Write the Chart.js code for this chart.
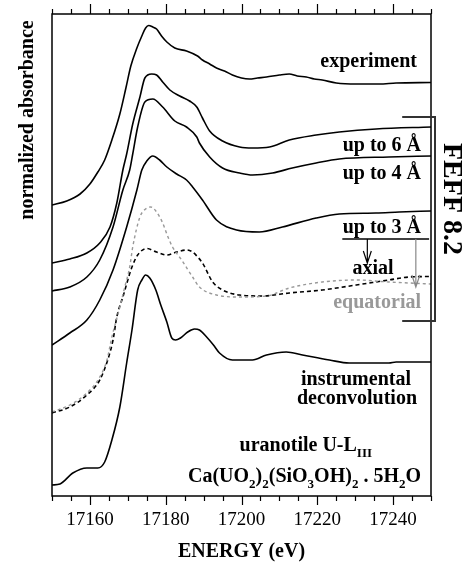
<!DOCTYPE html>
<html lang="en">

<head>
    <meta charset="UTF-8">
    <script src="https://cdn.jsdelivr.net/npm/chart.js"></script>
    <title>Uranotile U-LIII XANES</title>
    <style>
        body { margin: 0; background: #fff; }
        canvas { display: block; }
    </style>
</head>

<body>
    <canvas id="chart" width="462" height="564"></canvas>

    <script>
        // energy (eV) / offset absorbance pairs for each spectrum
        const expE = [17150, 17153.9, 17157.4, 17160, 17162.1, 17163.9, 17165.8, 17167.9, 17169.5, 17170.8, 17172.4, 17173.7, 17174.7, 17175.5, 17176.6, 17177.6, 17178.9, 17180.3, 17182.4, 17185.5, 17188.4, 17189.7, 17191.6, 17193.4, 17195.5, 17197.6, 17200, 17202.1, 17204.2, 17206.6, 17210, 17212.6, 17214.7, 17217.1, 17219.2, 17221.3, 17225, 17230.3, 17236.3, 17240.8, 17250];
        const expA = [2.91, 2.95, 3.02, 3.12, 3.24, 3.36, 3.56, 3.82, 4.08, 4.30, 4.48, 4.60, 4.68, 4.705, 4.69, 4.67, 4.60, 4.54, 4.48, 4.45, 4.40, 4.36, 4.32, 4.28, 4.25, 4.21, 4.18, 4.17, 4.18, 4.19, 4.21, 4.22, 4.20, 4.19, 4.17, 4.16, 4.13, 4.12, 4.12, 4.13, 4.135];

        const r6E = [17150, 17154.7, 17159.2, 17162.6, 17165.3, 17167.1, 17168.7, 17169.7, 17171.3, 17173.2, 17174.5, 17176.3, 17177.6, 17179.2, 17181.1, 17183.7, 17186.3, 17188.2, 17189.7, 17191.6, 17195, 17199.5, 17202.9, 17207.4, 17212.6, 17219.7, 17225.8, 17235.5, 17250];
        const r6A = [2.33, 2.37, 2.43, 2.53, 2.69, 2.93, 3.26, 3.42, 3.72, 3.99, 4.18, 4.22, 4.21, 4.14, 4.06, 4.00, 3.95, 3.89, 3.78, 3.65, 3.55, 3.49, 3.48, 3.49, 3.56, 3.61, 3.64, 3.67, 3.69];

        const r4E = [17150, 17154.7, 17159.2, 17162.6, 17166.1, 17168.7, 17170.5, 17171.3, 17172.6, 17174.5, 17176.6, 17179.2, 17182.4, 17185.5, 17188.2, 17188.9, 17191.6, 17195, 17199.5, 17202.9, 17208.2, 17213.4, 17219.7, 17225.8, 17238.9, 17250];
        const r4A = [2.05, 2.09, 2.19, 2.36, 2.69, 3.06, 3.26, 3.42, 3.69, 3.94, 3.97, 3.89, 3.75, 3.69, 3.59, 3.53, 3.39, 3.28, 3.23, 3.21, 3.23, 3.28, 3.33, 3.37, 3.39, 3.40];

        const r3E = [17150, 17154.7, 17159.2, 17162.6, 17166.1, 17169.7, 17172.4, 17173.7, 17175, 17176.6, 17178.4, 17180.3, 17182.9, 17185.5, 17187.1, 17189.7, 17193.4, 17198.7, 17204.7, 17210.8, 17219.7, 17225.8, 17235.5, 17241.6, 17250];
        const r3A = [1.51, 1.63, 1.76, 1.96, 2.26, 2.69, 3.06, 3.26, 3.35, 3.40, 3.36, 3.29, 3.22, 3.16, 3.09, 2.96, 2.76, 2.66, 2.64, 2.69, 2.78, 2.82, 2.83, 2.84, 2.85];

        const axialE = [17150, 17154.7, 17159.2, 17162.6, 17164.7, 17166.1, 17167.1, 17168.7, 17171.1, 17172.6, 17175, 17177.6, 17180.3, 17182.9, 17185.5, 17187.1, 17188.2, 17189.7, 17192.4, 17195, 17199.5, 17205.5, 17212.6, 17221.3, 17230.3, 17238.9, 17244.2, 17250];
        const axialA = [0.83, 0.89, 1.01, 1.16, 1.36, 1.56, 1.79, 1.99, 2.29, 2.41, 2.475, 2.44, 2.41, 2.44, 2.46, 2.44, 2.40, 2.33, 2.14, 2.06, 2.01, 2.00, 2.03, 2.06, 2.11, 2.16, 2.19, 2.195];

        const equatE = [17150, 17154.7, 17159.2, 17162.6, 17164.5, 17165.8, 17167.9, 17169.2, 17170.5, 17171.3, 17173.2, 17174.7, 17176.1, 17177.6, 17179.2, 17180.5, 17181.8, 17184.2, 17187.1, 17188.9, 17193.4, 17199.5, 17206.6, 17212.6, 17221.3, 17230.3, 17238.9, 17250];
        const equatA = [0.84, 0.91, 1.03, 1.19, 1.36, 1.59, 1.89, 2.09, 2.29, 2.49, 2.79, 2.87, 2.89, 2.84, 2.73, 2.60, 2.49, 2.36, 2.19, 2.09, 2.01, 1.99, 2.00, 2.08, 2.14, 2.16, 2.14, 2.12];

        const deconvE = [17150, 17152.1, 17155.5, 17159.2, 17162.1, 17163.9, 17165.8, 17167.9, 17169.7, 17171.1, 17172.6, 17173.7, 17174.7, 17175.8, 17177.4, 17178.7, 17180.3, 17181.6, 17182.6, 17183.9, 17185.8, 17187.6, 17188.9, 17190.8, 17192.6, 17194.2, 17197.6, 17202.9, 17206.6, 17211.8, 17216.1, 17223.2, 17228.4, 17238.9, 17240.8, 17250];
        const deconvA = [0.11, 0.12, 0.23, 0.28, 0.28, 0.34, 0.56, 0.89, 1.33, 1.66, 2.06, 2.16, 2.21, 2.18, 2.06, 1.91, 1.74, 1.58, 1.56, 1.58, 1.64, 1.67, 1.66, 1.59, 1.51, 1.43, 1.36, 1.36, 1.41, 1.44, 1.41, 1.36, 1.33, 1.33, 1.34, 1.34];

        const labelTicks = [17160, 17180, 17200, 17220, 17240];
        const xMin = 17150, xMax = 17250;

        const serif = "'Liberation Serif', 'Times New Roman', serif";

        function pts(xs, ys) {
            return xs.map(function (x, i) { return { x: x, y: ys[i] }; });
        }

        function series(xs, ys, color, dash, width) {
            return {
                data: pts(xs, ys),
                borderColor: color,
                borderWidth: width || 1.6,
                borderDash: dash || [],
                pointRadius: 0,
                fill: false,
                tension: 0,
                cubicInterpolationMode: 'monotone'
            };
        }

        // text with subscript runs, right aligned at x
        function richText(ctx, runs, x, y, size) {
            let w = 0;
            runs.forEach(function (r) {
                ctx.font = 'bold ' + (r.sub ? size * 0.65 : size) + 'px ' + serif;
                r.w = ctx.measureText(r.t).width;
                w += r.w;
            });
            let cx = x - w;
            ctx.textAlign = 'left';
            runs.forEach(function (r) {
                ctx.font = 'bold ' + (r.sub ? size * 0.65 : size) + 'px ' + serif;
                ctx.fillText(r.t, cx, r.sub ? y + size * 0.28 : y);
                cx += r.w;
            });
        }

        function arrow(ctx, x, y0, y1, color) {
            ctx.strokeStyle = color;
            ctx.lineWidth = 1.2;
            ctx.beginPath();
            ctx.moveTo(x, y0);
            ctx.lineTo(x, y1);
            ctx.moveTo(x - 4, y1 - 12);
            ctx.lineTo(x, y1);
            ctx.lineTo(x + 4, y1 - 12);
            ctx.stroke();
        }

        const decorations = {
            id: 'decorations',
            afterDraw(chart) {
                const ctx = chart.ctx;
                const a = chart.chartArea;
                const xs = chart.scales.x;
                const ys = chart.scales.y;
                ctx.save();

                // frame (left, top, right, bottom)
                ctx.strokeStyle = '#000';
                ctx.lineWidth = 1.5;
                ctx.strokeRect(a.left, a.top, a.right - a.left, a.bottom - a.top);

                // ticks every 5 eV, longer at labelled values, outside top and bottom
                ctx.lineWidth = 1.2;
                ctx.beginPath();
                for (let e = xMin; e <= xMax; e += 5) {
                    const px = Math.round(xs.getPixelForValue(e)) + 0.5;
                    const major = labelTicks.indexOf(e) >= 0;
                    ctx.moveTo(px, a.top);
                    ctx.lineTo(px, a.top - (major ? 10 : 5));
                    ctx.moveTo(px, a.bottom);
                    ctx.lineTo(px, a.bottom + (major ? 9 : 5));
                }
                ctx.stroke();

                // labels for the spectra
                ctx.fillStyle = '#000';
                ctx.textBaseline = 'alphabetic';
                ctx.font = 'bold 20px ' + serif;
                ctx.textAlign = 'right';
                ctx.fillText('experiment', 417, 67);
                ctx.fillText('up to 6 Å', 421, 151);
                ctx.fillText('up to 4 Å', 421, 179);
                ctx.fillText('up to 3 Å', 421, 233);
                ctx.textAlign = 'center';
                ctx.fillText('axial', 373, 274);
                ctx.fillText('instrumental', 356, 385);
                ctx.fillText('deconvolution', 357, 404);
                ctx.fillStyle = '#999';
                ctx.textAlign = 'right';
                ctx.fillText('equatorial', 421, 308);

                ctx.fillStyle = '#000';
                richText(ctx, [{ t: 'uranotile U-L' }, { t: 'III', sub: true }], 372, 451, 20);
                richText(ctx, [
                    { t: 'Ca(UO' }, { t: '2', sub: true }, { t: ')' }, { t: '2', sub: true },
                    { t: '(SiO' }, { t: '3', sub: true }, { t: 'OH)' }, { t: '2', sub: true },
                    { t: ' . 5H' }, { t: '2', sub: true }, { t: 'O' }
                ], 421, 482, 20);

                // split line under "up to 3 Å" with arrows to the partial spectra
                const lineY = ys.getPixelForValue(2.57);
                ctx.strokeStyle = '#000';
                ctx.lineWidth = 1.5;
                ctx.beginPath();
                ctx.moveTo(xs.getPixelForValue(17226.6), lineY);
                ctx.lineTo(xs.getPixelForValue(17249.5), lineY);
                ctx.stroke();
                arrow(ctx, xs.getPixelForValue(17233.2), lineY, ys.getPixelForValue(2.33), '#000');
                arrow(ctx, xs.getPixelForValue(17246), lineY, ys.getPixelForValue(2.09), '#888');

                // bracket grouping the FEFF calculations
                const bx0 = xs.getPixelForValue(17242.4);
                const bx1 = a.right + 4;
                const by0 = ys.getPixelForValue(3.79);
                const by1 = ys.getPixelForValue(1.75);
                ctx.strokeStyle = '#333';
                ctx.lineWidth = 2;
                ctx.beginPath();
                ctx.moveTo(bx0, by0);
                ctx.lineTo(bx1, by0);
                ctx.lineTo(bx1, by1);
                ctx.lineTo(bx0, by1);
                ctx.stroke();

                ctx.fillStyle = '#000';
                ctx.save();
                ctx.translate(444, 199);
                ctx.rotate(Math.PI / 2);
                ctx.font = 'bold 28px ' + serif;
                ctx.textAlign = 'center';
                ctx.textBaseline = 'alphabetic';
                ctx.fillText('FEFF 8.2', 0, 0);
                ctx.restore();

                // y axis title
                ctx.save();
                ctx.translate(33, 120);
                ctx.rotate(-Math.PI / 2);
                ctx.font = 'bold 20px ' + serif;
                ctx.textAlign = 'center';
                ctx.textBaseline = 'alphabetic';
                ctx.fillText('normalized absorbance', 0, 0);
                ctx.restore();

                ctx.restore();
            }
        };

        const spectraChart = new Chart('chart', {
            type: 'line',
            data: {
                datasets: [
                    series(expE, expA, '#000'),
                    series(r6E, r6A, '#000'),
                    series(r4E, r4A, '#000'),
                    series(r3E, r3A, '#000'),
                    series(equatE, equatA, '#999', [3, 3], 1.4),
                    series(axialE, axialA, '#000', [4, 3], 1.6),
                    series(deconvE, deconvA, '#000')
                ]
            },
            options: {
                responsive: false,
                animation: false,
                devicePixelRatio: 1,
                layout: {
                    padding: { left: 52, right: 31, top: 14, bottom: 0 }
                },
                scales: {
                    x: {
                        type: 'linear',
                        min: xMin,
                        max: xMax,
                        grid: { display: false, drawTicks: false },
                        border: { display: false },
                        afterBuildTicks: function (scale) {
                            scale.ticks = labelTicks.map(function (v) { return { value: v }; });
                        },
                        afterFit: function (scale) {
                            scale.height = 68;
                        },
                        ticks: {
                            color: '#000',
                            padding: 13,
                            maxRotation: 0,
                            autoSkip: false,
                            font: { family: serif, size: 19 },
                            callback: function (v) { return v; }
                        },
                        title: {
                            display: true,
                            text: 'ENERGY (eV)',
                            color: '#000',
                            padding: 0,
                            font: { family: serif, size: 20, weight: 'bold', lineHeight: 1.2 }
                        }
                    },
                    y: {
                        display: false,
                        min: 0,
                        max: 4.82
                    }
                },
                plugins: {
                    legend: { display: false },
                    tooltip: { enabled: false }
                }
            },
            plugins: [decorations]
        });
    </script>
</body>

</html>
